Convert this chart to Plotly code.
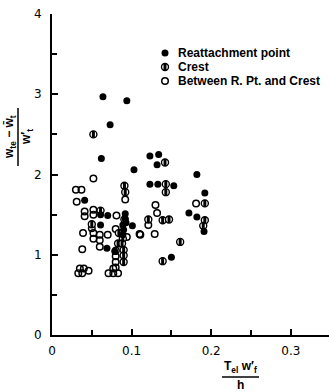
import plotly.graph_objects as go

# Reattachment point (filled)
reat_x = [0.064, 0.094, 0.073, 0.062, 0.103, 0.123, 0.134, 0.132, 0.182, 0.123,
          0.133, 0.153, 0.192, 0.041, 0.061, 0.070, 0.092, 0.092, 0.061, 0.089,
          0.093, 0.101, 0.069, 0.079, 0.172, 0.182, 0.191, 0.150, 0.090, 0.089]
reat_y = [2.97, 2.92, 2.62, 2.20, 2.06, 2.23, 2.25, 2.12, 2.00, 1.88,
          1.88, 1.86, 1.77, 1.68, 1.50, 1.49, 1.51, 1.45, 1.37, 1.37,
          1.40, 1.36, 1.08, 1.04, 1.52, 1.47, 1.29, 0.97, 1.31, 1.25]

# Crest (half filled)
crest_x = [0.052, 0.142, 0.091, 0.092, 0.143, 0.143, 0.192, 0.121, 0.139, 0.147,
           0.192, 0.190, 0.161, 0.139, 0.061, 0.050, 0.084, 0.089, 0.083, 0.088,
           0.090, 0.090, 0.090, 0.080, 0.091]
crest_y = [2.50, 2.15, 1.86, 1.78, 1.88, 1.78, 1.64, 1.44, 1.43, 1.44,
           1.43, 1.36, 1.16, 0.92, 1.55, 1.38, 1.27, 1.20, 1.14, 1.14,
           1.06, 0.99, 0.91, 1.05, 1.44]

# Between R. Pt. and Crest (open)
betw_x = [0.052, 0.030, 0.037, 0.031, 0.092, 0.041, 0.041, 0.052, 0.052, 0.081,
          0.039, 0.052, 0.052, 0.060, 0.060, 0.070, 0.080, 0.094, 0.110, 0.038,
          0.080, 0.080, 0.080, 0.071, 0.077, 0.083, 0.077, 0.035, 0.040, 0.033,
          0.038, 0.046, 0.181, 0.130, 0.132, 0.121, 0.111, 0.129, 0.050, 0.086,
          0.060]
betw_y = [1.95, 1.81, 1.81, 1.66, 1.69, 1.54, 1.48, 1.56, 1.50, 1.49,
          1.27, 1.27, 1.20, 1.25, 1.18, 1.25, 1.32, 1.22, 1.26, 1.07,
          0.98, 0.91, 0.84, 0.77, 0.77, 0.77, 0.83, 0.83, 0.83, 0.77,
          0.77, 0.80, 1.64, 1.62, 1.52, 1.37, 1.25, 1.26, 1.33, 1.27,
          1.10]

x_ticks = [0, 0.1, 0.2, 0.3]
x_ticktext = ["0", "0.1", "0.2", "0.3"]
y_ticks = [0, 1, 2, 3, 4]
y_ticktext = ["0", "1", "2", "3", "4"]

legend_labels = ["Reattachment point", "Crest", "Between R. Pt. and Crest"]

W, H = 329, 392
ML, MR, MT, MB = 52, 0, 14, 57
PW, PH = W - ML - MR, H - MT - MB

def px(x):
    return (x - ML) / PW

def py(y):
    return (H - MB - y) / PH

filled_style = dict(symbol="circle", size=7, color="black", line=dict(width=0, color="black"))
crest_ring = dict(symbol="circle", size=7, color="white", line=dict(width=1.4, color="black"))
crest_half = dict(symbol="line-ns", size=5, color="black", line=dict(width=3, color="black"))
open_style = dict(symbol="circle-open", size=6.5, color="black", line=dict(width=1.5, color="black"))

fig = go.Figure()
fig.add_trace(go.Scatter(x=betw_x, y=betw_y, mode="markers", name=legend_labels[2],
                         marker=open_style, cliponaxis=False, showlegend=False))
fig.add_trace(go.Scatter(x=crest_x, y=crest_y, mode="markers", name=legend_labels[1],
                         marker=crest_ring, cliponaxis=False, showlegend=False))
fig.add_trace(go.Scatter(x=crest_x, y=crest_y, mode="markers", name=legend_labels[1],
                         marker=crest_half, cliponaxis=False, showlegend=False))
fig.add_trace(go.Scatter(x=reat_x, y=reat_y, mode="markers", name=legend_labels[0],
                         marker=filled_style, cliponaxis=False, showlegend=False))

# legend keys, drawn on an overlay axis measured in page pixels
leg_font = dict(family="Liberation Sans, Arial, sans-serif", size=12, color="black")
key_styles = [[filled_style], [crest_ring, crest_half], [open_style]]
for i, lab in enumerate(legend_labels):
    for st in key_styles[i]:
        fig.add_trace(go.Scatter(x=[165], y=[53 + 14 * i], xaxis="x2", yaxis="y2",
                                 mode="markers", marker=st, cliponaxis=False,
                                 showlegend=False, hoverinfo="skip"))

axis_font = dict(family="DejaVu Sans, sans-serif", size=12, color="black")

xaxis = dict(range=[0, 0.348], showline=True, linecolor="black", linewidth=2,
             ticks="inside", ticklen=6, tickwidth=1.5, tickcolor="black",
             tickmode="array", tickvals=x_ticks, ticktext=x_ticktext, tickfont=axis_font,
             minor=dict(dtick=0.05, tick0=0, ticks="inside", ticklen=5, tickwidth=1.5,
                        tickcolor="black"),
             showgrid=False, zeroline=False, ticklabelstandoff=4)
yaxis = dict(range=[0, 4], showline=True, linecolor="black", linewidth=2,
             ticks="inside", ticklen=6, tickwidth=1.5, tickcolor="black",
             tickmode="array", tickvals=y_ticks, ticktext=y_ticktext, tickfont=axis_font,
             minor=dict(dtick=0.5, tick0=0, ticks="inside", ticklen=5, tickwidth=1.5,
                        tickcolor="black"),
             showgrid=False, zeroline=False, ticklabelstandoff=6)

anns = []
for i, lab in enumerate(legend_labels):
    yy = 53 + 14 * i
    anns.append(dict(x=px(176), y=py(yy), xref="paper", yref="paper",
                     text="<b>" + lab + "</b>", showarrow=False,
                     xanchor="left", yanchor="middle", font=leg_font))

title_font = dict(family="Liberation Sans, Arial, sans-serif", size=12, color="black")
# y-axis title as a rotated fraction
anns.append(dict(x=px(10), y=py(137), xref="paper", yref="paper",
                 text="<b>w<sub>te</sub> \u2212 w\u0304<sub>t</sub></b>", textangle=-90,
                 showarrow=False, xanchor="center", yanchor="middle", font=title_font))
anns.append(dict(x=px(27), y=py(137), xref="paper", yref="paper",
                 text="<b>w\u2032<sub>t</sub></b>", textangle=-90,
                 showarrow=False, xanchor="center", yanchor="middle", font=title_font))
# x-axis title as a fraction
anns.append(dict(x=px(240), y=py(367), xref="paper", yref="paper",
                 text="<b>T<sub>el</sub> w\u2032<sub>f</sub></b>",
                 showarrow=False, xanchor="center", yanchor="middle", font=title_font))
anns.append(dict(x=px(240), y=py(385), xref="paper", yref="paper",
                 text="<b>h</b>",
                 showarrow=False, xanchor="center", yanchor="middle", font=title_font))

shapes = [
    dict(type="line", xref="paper", yref="paper", x0=px(18), x1=px(18),
         y0=py(108), y1=py(166), line=dict(color="black", width=1.5)),
    dict(type="line", xref="paper", yref="paper", x0=px(222), x1=px(259),
         y0=py(377), y1=py(377), line=dict(color="black", width=1.5)),
]

fig.update_layout(width=W, height=H, margin=dict(l=ML, r=MR, t=MT, b=MB),
                  paper_bgcolor="white", plot_bgcolor="white",
                  showlegend=False, annotations=anns, shapes=shapes,
                  xaxis=xaxis, yaxis=yaxis,
                  xaxis2=dict(overlaying="x", range=[ML, W], visible=False, fixedrange=True),
                  yaxis2=dict(overlaying="y", range=[H - MB, MT], visible=False, fixedrange=True))

fig.write_html("out.html")
